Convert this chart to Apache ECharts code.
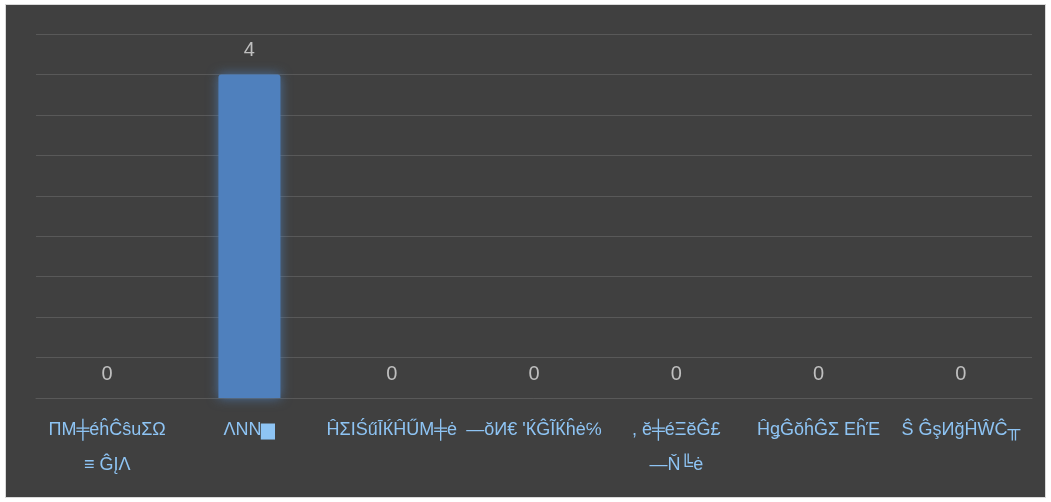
<!DOCTYPE html>
<html>
<head>
<meta charset="utf-8">
<script src="https://cdn.jsdelivr.net/npm/echarts@6/dist/echarts.min.js"></script>
<style>
  html, body { margin: 0; padding: 0; background: #ffffff; }
  #frame { position: absolute; left: 5px; top: 4px; width: 1039px; height: 492px; border: 1px solid #d9d9d9; background: #404040; }
  #chart { width: 1039px; height: 492px; }
</style>
</head>
<body>
<div id="frame"><div id="chart"></div></div>
<script>
const categories = [
  'ΠΜ╪éĥĈŝuΣΩ\n≡ ĜĮΛ',
  'ΛΝΝ▆',
  'ĤΣΙŚűĪЌĤŰΜ╪ė',
  '—ŏИ€ ʹЌĜĨЌĥė℅',
  ', ĕ╪éΞĕĜ£\n—Ň╚ė',
  'ĤǥĜŏĥĜΣ ΕĥΈ',
  'Ŝ ĜşИğĤŴĈ╥'
];
const values = [0, 4, 0, 0, 0, 0, 0];

const chart = echarts.init(document.getElementById('chart'));
chart.setOption({
  backgroundColor: '#404040',
  animation: false,
  grid: { left: 30, right: 13, top: 29, bottom: 99, containLabel: false },
  xAxis: {
    type: 'category',
    data: categories,
    axisLine: { show: true, lineStyle: { color: '#595959', width: 1 } },
    axisTick: { show: false },
    axisLabel: {
      color: '#8ec4f4',
      fontFamily: 'Liberation Sans, Arial, sans-serif',
      fontSize: 18,
      lineHeight: 35,
      margin: 15,
      interval: 0
    }
  },
  yAxis: {
    type: 'value',
    min: 0,
    max: 4.5,
    interval: 0.5,
    axisLabel: { show: false },
    axisLine: { show: false },
    axisTick: { show: false },
    splitLine: { show: true, lineStyle: { color: '#595959', width: 1 } }
  },
  series: [{
    type: 'bar',
    data: values,
    barWidth: 62,
    itemStyle: {
      color: '#4f80bd',
      borderRadius: [3, 3, 0, 0],
      shadowBlur: 12,
      shadowColor: 'rgba(79,129,189,0.75)'
    },
    label: {
      show: true,
      position: 'top',
      distance: 14,
      color: '#bfbfbf',
      fontFamily: 'Liberation Sans, Arial, sans-serif',
      fontSize: 20
    }
  }]
});
</script>
</body>
</html>
